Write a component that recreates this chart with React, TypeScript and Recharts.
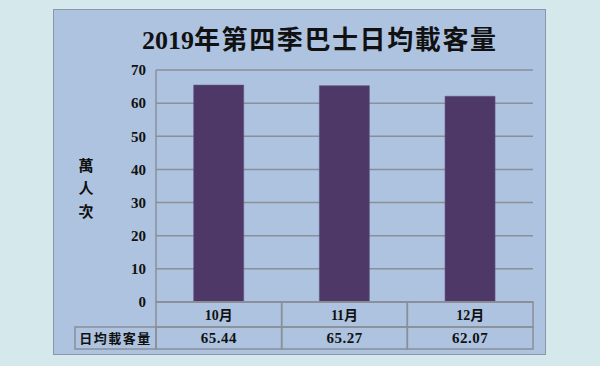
import React from 'react';
import { BarChart, Bar, XAxis, YAxis, CartesianGrid } from 'recharts';

const months = ['10月', '11月', '12月'];
const values = [65.44, 65.27, 62.07];
const valueLabels = ['65.44', '65.27', '62.07'];
const yTicks = [0, 10, 20, 30, 40, 50, 60, 70];
const rowLabel = '日均載客量';
const titleDigits = '2019';
const titleRest = '年第四季巴士日均載客量';
const yLabelChars = ['萬', '人', '次'];

const data = months.map((m, i) => ({ month: m, value: values[i], label: valueLabels[i] }));

const W = 600;
const H = 366;
const PLOT_LEFT = 156;
const PLOT_RIGHT = 533;
const PLOT_TOP = 70;
const PLOT_BOTTOM = 302;
const Y_AXIS_W = 60;
const X_AXIS_H = 50;
const BAND = (PLOT_RIGHT - PLOT_LEFT) / months.length;
const ROW1 = 25;
const ROW2 = 22;
const LABEL_LEFT = 75;
const GRID = '#8a8f98';
const FONT = "'Liberation Serif', 'Noto Sans CJK TC', serif";

const TableTick = (props: any) => {
  const { x, y, payload, index } = props;
  const d = data[index] || data.find((r) => r.month === payload.value);
  const left = x - BAND / 2;
  return (
    <g>
      <rect x={left} y={y} width={BAND} height={ROW1} fill="none" stroke={GRID} strokeWidth={1.5} />
      <rect x={left} y={y + ROW1} width={BAND} height={ROW2} fill="none" stroke={GRID} strokeWidth={1.5} />
      <text x={x} y={y + 18} textAnchor="middle" fontFamily={FONT} fontWeight={700} fontSize={14} fill="#111">
        {payload.value}
      </text>
      <text x={x} y={y + ROW1 + 16} textAnchor="middle" fontFamily={FONT} fontWeight={700} fontSize={15} letterSpacing={0.5} fill="#111">
        {d ? d.label : ''}
      </text>
      {index === 0 && (
        <g>
          <rect x={LABEL_LEFT} y={y + ROW1} width={left - LABEL_LEFT} height={ROW2} fill="none" stroke={GRID} strokeWidth={1.5} />
          <text x={(LABEL_LEFT + left) / 2} y={y + ROW1 + 16} textAnchor="middle" fontFamily={FONT} fontWeight={700} fontSize={13} letterSpacing={1.5} fill="#111">
            {rowLabel}
          </text>
        </g>
      )}
    </g>
  );
};

export default function App() {
  return (
    <div style={{ position: 'fixed', left: 0, top: 0, width: W, height: H, background: '#d5e8ec', overflow: 'hidden' }}>
      <div
        style={{
          position: 'absolute',
          left: 53,
          top: 9,
          width: 491,
          height: 344,
          background: '#adc3e0',
          border: '1.5px solid #8a97a8',
        }}
      />
      <div
        style={{
          position: 'absolute',
          left: 142,
          top: 23,
          width: 400,
          height: 36,
          fontSize: 26,
          lineHeight: '36px',
          fontFamily: FONT,
          fontWeight: 700,
          color: '#111',
          whiteSpace: 'nowrap',
        }}
      >
        <span style={{ letterSpacing: 0 }}>{titleDigits}</span>
        <span style={{ letterSpacing: 1.6 }}>{titleRest}</span>
      </div>
      <div
        style={{
          position: 'absolute',
          left: 76,
          top: 155,
          width: 20,
          fontSize: 15,
          lineHeight: '23px',
          fontFamily: FONT,
          fontWeight: 700,
          color: '#111',
          textAlign: 'center',
        }}
      >
        {yLabelChars.map((c) => (
          <div key={c}>{c}</div>
        ))}
      </div>
      <div style={{ position: 'absolute', left: 0, top: 0 }}>
        <BarChart
          width={W}
          height={H}
          data={data}
          margin={{ top: PLOT_TOP, right: W - PLOT_RIGHT, left: PLOT_LEFT - Y_AXIS_W, bottom: H - PLOT_BOTTOM - X_AXIS_H }}
          barCategoryGap="30%"
        >
          <CartesianGrid vertical={false} stroke={GRID} strokeWidth={1.5} />
          <YAxis
            width={Y_AXIS_W}
            domain={[0, 70]}
            ticks={yTicks}
            interval={0}
            axisLine={{ stroke: GRID, strokeWidth: 1.5 }}
            tickLine={false}
            tickSize={8}
            tickMargin={2}
            tick={{ fill: '#111', fontFamily: FONT, fontWeight: 700, fontSize: 15 }}
          />
          <XAxis
            dataKey="month"
            height={X_AXIS_H}
            axisLine={{ stroke: GRID, strokeWidth: 1.5 }}
            tickLine={false}
            tickSize={0}
            tickMargin={0}
            interval={0}
            tick={<TableTick />}
          />
          <Bar dataKey="value" fill="#4e3868" stroke="#62548a" strokeWidth={0.6} isAnimationActive={false} />
        </BarChart>
      </div>
    </div>
  );
}
